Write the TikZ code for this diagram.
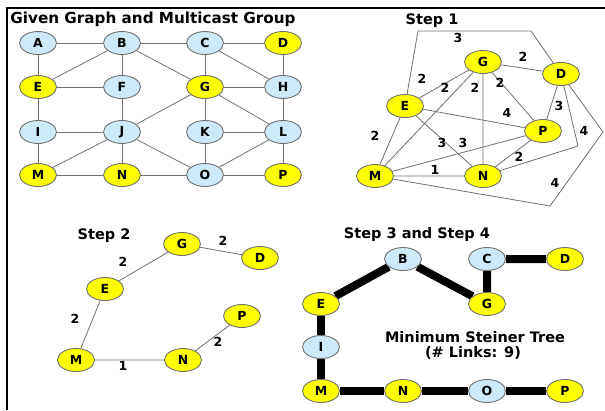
\documentclass[tikz,border=0pt]{standalone}
\usepackage{fontspec}
\setmainfont{DejaVu Sans}
\usepackage{xcolor}
\usepackage{tikz}
\usetikzlibrary{shapes.geometric,backgrounds}

\definecolor{nodeblue}{RGB}{205,233,250}
\definecolor{nodeyellow}{RGB}{255,255,0}
\definecolor{edgegray}{RGB}{112,112,112}

\tikzset{
  vtx/.style={ellipse, draw=edgegray, line width=0.9pt, minimum width=37pt, minimum height=23pt,
    inner sep=0pt, font=\fontsize{12.5}{13}\selectfont\bfseries},
  grp/.style={vtx, fill=nodeyellow},
  oth/.style={vtx, fill=nodeblue},
  link/.style={draw=edgegray, line width=0.8pt},
  tree/.style={draw=black, line width=8pt},
  wt/.style={font=\fontsize{12.5}{13}\selectfont\bfseries, inner sep=0pt},
  heading/.style={font=\fontsize{14.5}{16}\selectfont\bfseries, inner sep=0pt}
}

\begin{document}
\begin{tikzpicture}[x=1pt, y=-1pt]
      \useasboundingbox (0,0) rectangle (605,410);
      \draw [line width=2pt] (7,410) -- (7,7.5) -- (605,7.5);

      \node [heading, font=\fontsize{15.2}{16}\selectfont\bfseries] (title) at (153,19) {Given Graph and Multicast Group};
      \node [heading] (step1) at (432,21) {Step 1};
      \node [heading] (step2) at (104,236) {Step 2};
      \node [heading] (step3) at (417,234) {Step 3 and Step 4};
      \node [heading] (steiner) at (475,337) {Minimum Steiner Tree};
      \node [heading] (links) at (473,353) {(\# Links: 9)};

      % given graph
      \node [oth] (A) at (38,43) {A};
      \node [oth] (B) at (122,43) {B};
      \node [oth] (C) at (205,43) {C};
      \node [grp] (D) at (283,43) {D};

      \node [grp] (E) at (38,87) {E};
      \node [oth] (F) at (122,87) {F};
      \node [grp] (G) at (205,87) {G};
      \node [oth] (H) at (283,87) {H};

      \node [oth] (I) at (38,132) {I};
      \node [oth] (J) at (122,132) {J};
      \node [oth] (K) at (205,132) {K};
      \node [oth] (L) at (283,132) {L};

      \node [grp] (M) at (38,175) {M};
      \node [grp] (N) at (122,175) {N};
      \node [oth] (O) at (205,175) {O};
      \node [grp] (P) at (283,175) {P};

      \draw [link] (A) -- (B) (B) -- (C) (C) -- (D);
      \draw [link] (E) -- (F) (G) -- (H) (I) -- (J) (K) -- (L);
      \draw [link] (M) -- (N) (N) -- (O) (O) -- (P);
      \draw [link] (A) -- (E) (E) -- (I) (I) -- (M);
      \draw [link] (B) -- (F) (F) -- (J) (J) -- (N);
      \draw [link] (C) -- (G) (G) -- (K) (K) -- (O);
      \draw [link] (D) -- (H) (H) -- (L) (L) -- (P);
      \draw [link] (B) -- (E) (B) -- (G) (C) -- (H) (G) -- (L);
      \draw [link] (G) -- (J) (J) -- (M) (J) -- (O) (L) -- (O);

      % step 1
      \node [grp] (G1) at (483,62) {G};
      \node [grp] (D1) at (561,74) {D};
      \node [grp] (E1) at (405,106) {E};
      \node [grp] (P1) at (543,131) {P};
      \node [grp] (M1) at (375,176) {M};
      \node [grp] (N1) at (483,176) {N};

      \coordinate (ED1) at (418,31);
      \coordinate (ED2) at (531,31);
      \coordinate (MD1) at (550,206);
      \coordinate (MD2) at (603,132);
      \coordinate (ND1) at (578,146);

      \draw [link] (E1) -- (G1) (G1) -- (D1) (E1) -- (P1) (G1) -- (P1) (D1) -- (P1);
      \draw [link] (E1) -- (M1) (E1) -- (N1) (M1) -- (G1) (G1) -- (N1);
      \draw [link] (M1) -- (P1) (M1) -- (N1) (N1) -- (P1);
      \draw [link] (E1) -- (ED1) -- (ED2) -- (D1);
      \draw [link] (M1) -- (MD1) -- (MD2) -- (D1);
      \draw [link] (N1) -- (ND1) -- (D1);

      \node [wt] (w1) at (458,38) {3};
      \node [wt] (w2) at (523,57) {2};
      \node [wt] (w3) at (422,79) {2};
      \node [wt] (w4) at (445,88) {2};
      \node [wt] (w5) at (475,88) {2};
      \node [wt] (w6) at (500,83) {2};
      \node [wt] (w7) at (507,113) {4};
      \node [wt] (w8) at (559,106) {3};
      \node [wt] (w9) at (584,131) {4};
      \node [wt] (w10) at (375,136) {2};
      \node [wt] (w11) at (442,143) {3};
      \node [wt] (w12) at (463,143) {3};
      \node [wt] (w13) at (519,157) {2};
      \node [wt] (w14) at (435,170) {1};
      \node [wt] (w15) at (555,183) {4};

      % step 2
      \node [grp] (G2) at (182,244) {G};
      \node [grp] (D2) at (260,258) {D};
      \node [grp] (E2) at (105,289) {E};
      \node [grp] (P2) at (242,316) {P};
      \node [grp] (M2) at (76,360) {M};
      \node [grp] (N2) at (183,360) {N};

      \draw [link] (E2) -- (G2) (G2) -- (D2) (E2) -- (M2) (M2) -- (N2) (N2) -- (P2);

      \node [wt] (v1) at (223,241) {2};
      \node [wt] (v2) at (123,262) {2};
      \node [wt] (v3) at (75,319) {2};
      \node [wt] (v4) at (123,366) {1};
      \node [wt] (v5) at (218,342) {2};

      % step 3 and step 4
      \node [oth] (B3) at (403,259) {B};
      \node [oth] (C3) at (487,259) {C};
      \node [grp] (D3) at (565,259) {D};
      \node [grp] (E3) at (321,304) {E};
      \node [grp] (G3) at (487,304) {G};
      \node [oth] (I3) at (321,347) {I};
      \node [grp] (M3) at (321,391) {M};
      \node [grp] (N3) at (403,391) {N};
      \node [oth] (O3) at (487,391) {O};
      \node [grp] (P3) at (565,391) {P};

      \begin{scope}[on background layer]
        \draw [tree] (E3) -- (B3) -- (G3) -- (C3) -- (D3);
        \draw [tree] (E3) -- (I3) -- (M3) -- (N3) -- (O3) -- (P3);
      \end{scope}
\end{tikzpicture}
\end{document}
